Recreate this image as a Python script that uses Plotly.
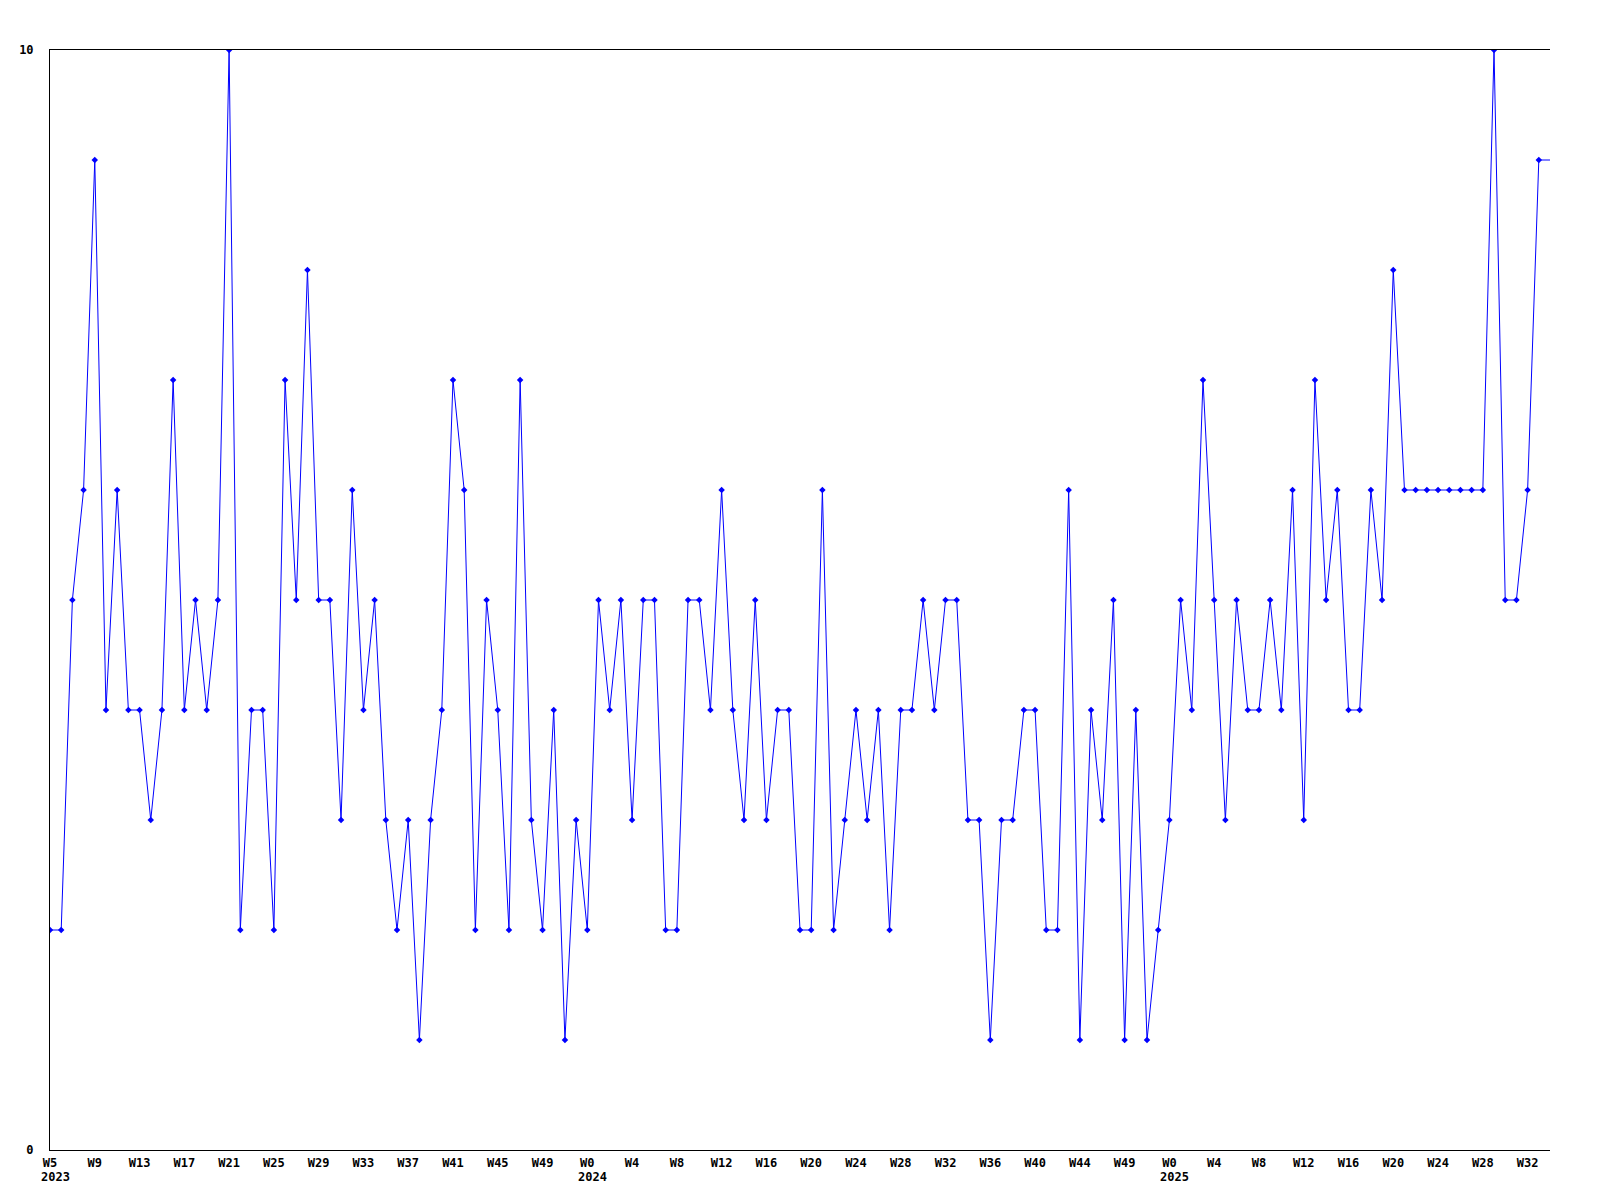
import plotly.graph_objects as go

# Weekly values (one per week, starting W5 2023)
values = [
    2, 2, 5, 6, 9, 4, 6, 4, 4, 3, 4, 7, 4, 5, 4, 5, 10, 2, 4, 4, 2, 7, 5,
    8, 5, 5, 3, 6, 4, 5, 3, 2, 3, 1, 3, 4, 7, 6, 2, 5, 4, 2, 7, 3, 2,
    4, 1, 3, 2, 5, 4, 5, 3, 5, 5, 2, 2, 5, 5, 4, 6, 4, 3, 5, 3, 4, 4, 2,
    2, 6, 2, 3, 4, 3, 4, 2, 4, 4, 5, 4, 5, 5, 3, 3, 1, 3, 3, 4, 4, 2,
    2, 6, 1, 4, 3, 5, 1, 4, 1, 2, 3, 5, 4, 7, 5, 3, 5, 4, 4, 5, 4, 6,
    3, 7, 5, 6, 4, 4, 6, 5, 8, 6, 6, 6, 6, 6, 6, 6, 6, 10, 5, 5, 6, 9,
]

# Tick labels, one every 4 weeks
week_labels = [
    "W5", "W9", "W13", "W17", "W21", "W25", "W29", "W33", "W37", "W41", "W45", "W49",
    "W0", "W4", "W8", "W12", "W16", "W20", "W24", "W28", "W32", "W36", "W40", "W44", "W49",
    "W0", "W4", "W8", "W12", "W16", "W20", "W24", "W28", "W32",
]
tick_step = 4

# Year labels and the week index where each year starts
years = ["2023", "2024", "2025"]
year_index = [0, 48, 100]

y_ticks = [0, 10]

n = len(values)
x = list(range(n))
tickvals = [i * tick_step for i in range(len(week_labels))]

FONT = dict(family="DejaVu Sans Mono", size=12, color="black", weight="bold")
BLUE = "#0000FF"

fig = go.Figure()
fig.add_trace(go.Scatter(
    x=x, y=values, mode="lines+markers",
    line=dict(color=BLUE, width=1),
    marker=dict(symbol="diamond", size=5, color=BLUE),
    hoverinfo="skip", showlegend=False,
))
# last value carried to the right edge of the plot
fig.add_trace(go.Scatter(
    x=[n - 1, n], y=[values[-1], values[-1]], mode="lines",
    line=dict(color=BLUE, width=1),
    hoverinfo="skip", showlegend=False,
))

for yr, idx in zip(years, year_index):
    fig.add_annotation(
        x=idx, y=0, xref="x", yref="paper", text=yr, showarrow=False,
        xanchor="left", yanchor="middle", xshift=-11, yshift=-27, font=FONT,
    )

fig.update_layout(
    width=1600, height=1200,
    margin=dict(l=42, r=58, t=42, b=58),
    plot_bgcolor="white", paper_bgcolor="white",
    font=FONT,
    showlegend=False,
)
fig.update_xaxes(
    range=[0, n], tickmode="array", tickvals=tickvals, ticktext=week_labels,
    showgrid=False, zeroline=False, showline=True, linecolor="black", linewidth=1,
    mirror=True, ticks="", tickfont=FONT, ticklabelstandoff=2,
)
fig.update_yaxes(
    range=[0, 10], tickmode="array", tickvals=y_ticks, ticktext=[str(v) for v in y_ticks],
    showgrid=False, zeroline=False, showline=True, linecolor="black", linewidth=1,
    ticks="", tickfont=FONT, ticklabelstandoff=13,
)

fig.write_html("out.html")
